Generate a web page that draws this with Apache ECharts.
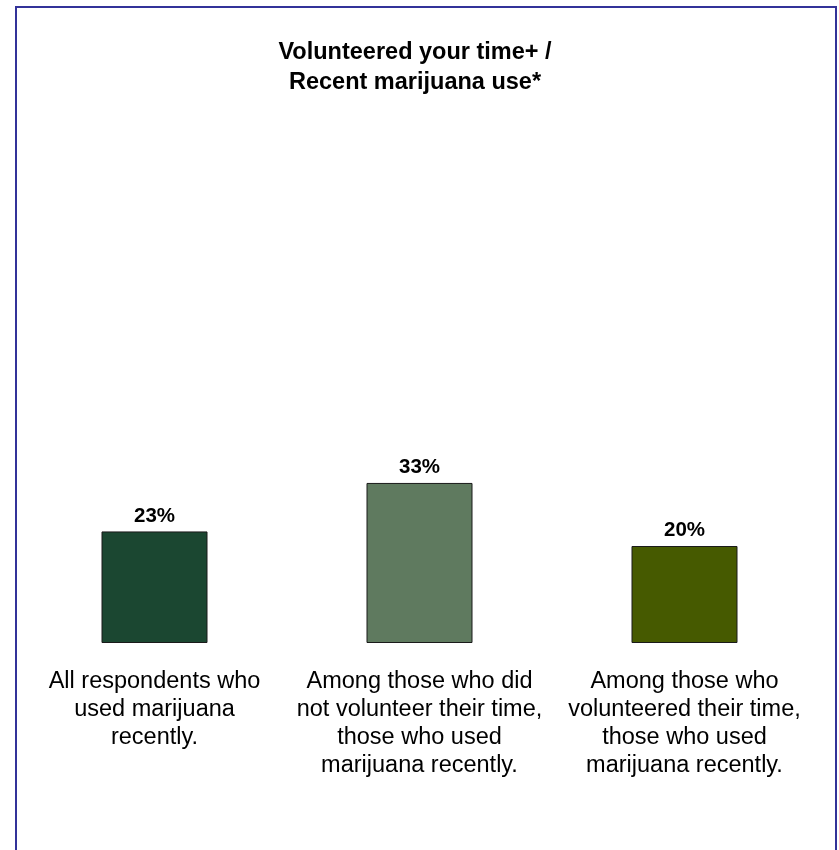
<!DOCTYPE html>
<html>
<head>
<meta charset="utf-8">
<script src="https://cdn.jsdelivr.net/npm/echarts@6/dist/echarts.min.js"></script>
<style>
html,body{margin:0;padding:0;background:#fff;}
#chart{width:839px;height:850px;}
</style>
</head>
<body>
<div id="chart"></div>
<script>
var titleLines = ['Volunteered your time+ /', 'Recent marijuana use*'];
var categories = [
  'All respondents who\nused marijuana\nrecently.',
  'Among those who did\nnot volunteer their time,\nthose who used\nmarijuana recently.',
  'Among those who\nvolunteered their time,\nthose who used\nmarijuana recently.'
];
var values = [23, 33, 20];
var barColors = ['#1b4731', '#5f7a5f', '#465a00'];

var chart = echarts.init(document.getElementById('chart'), null, {renderer: 'canvas'});
var font = '"Liberation Sans", Arial, sans-serif';
chart.setOption({
  backgroundColor: '#ffffff',
  animation: false,
  graphic: [{
    type: 'rect',
    shape: {x: 16, y: 7, width: 820, height: 900},
    style: {fill: 'none', stroke: '#333399', lineWidth: 2},
    silent: true
  }, {
    type: 'text',
    x: 415, y: 38,
    style: {
      text: titleLines.join('\n'),
      align: 'center', verticalAlign: 'top',
      font: 'bold 23.5px ' + font,
      lineHeight: 30,
      fill: '#000'
    },
    silent: true
  }],
  grid: {left: 22, right: 22, top: 158, bottom: 207, containLabel: false},
  xAxis: {
    type: 'category',
    data: categories,
    axisLine: {show: false},
    axisTick: {show: false},
    axisLabel: {interval: 0, margin: 25, fontFamily: font, fontSize: 23.5, lineHeight: 28, color: '#000', align: 'center'}
  },
  yAxis: {
    type: 'value', min: 0, max: 100,
    show: false,
    splitLine: {show: false}
  },
  series: [{
    type: 'bar',
    barWidth: 106,
    data: values.map(function (v, i) {
      return {value: v, itemStyle: {color: barColors[i]}};
    }),
    itemStyle: {borderColor: '#1a1a1a', borderWidth: 1},
    label: {
      show: true, position: 'top', distance: 5,
      formatter: '{c}%',
      fontFamily: font, fontSize: 20.5, fontWeight: 'bold', color: '#000'
    }
  }]
});
</script>
</body>
</html>
